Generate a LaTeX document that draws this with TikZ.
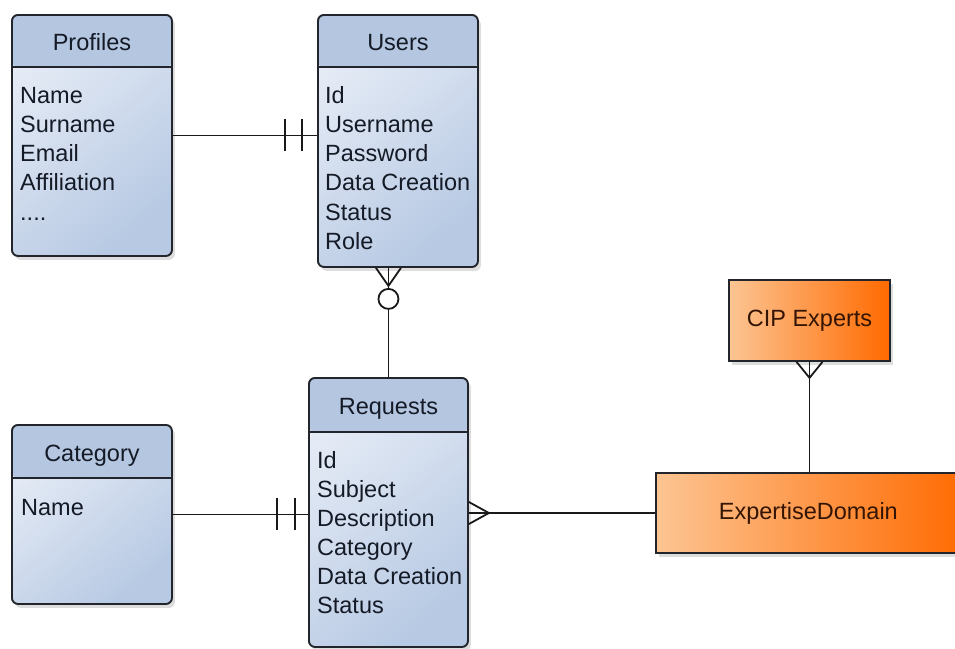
\documentclass[tikz,border=0pt]{standalone}
\usepackage{fontspec}
\setmainfont{Liberation Sans}
\usetikzlibrary{calc,shadows}

\definecolor{bodylight}{HTML}{E6ECF6}
\definecolor{bodydark}{HTML}{B7C9E3}
\definecolor{headfill}{HTML}{B4C6E0}
\definecolor{edgecol}{HTML}{22262C}
\definecolor{bluetext}{HTML}{141A26}
\definecolor{orangelight}{HTML}{FCC593}
\definecolor{orangedark}{HTML}{FF6A00}
\definecolor{orangetext}{HTML}{341402}

\tikzset{
  txt/.style={font=\fontsize{23.5}{29}\selectfont, inner sep=0pt},
  entity/.style={draw=edgecol, line width=1.9pt, rounded corners=6pt,
    rectangle, anchor=north west, inner sep=0pt,
    drop shadow={shadow xshift=3pt, shadow yshift=-4pt, opacity=.22, fill=black!60},
    left color=bodylight, right color=bodydark, shading angle=40,
    path picture={
      \fill[headfill] (path picture bounding box.north west) rectangle
        ([yshift=-#1]path picture bounding box.north east);
      \draw[edgecol, line width=1.9pt]
        ([yshift=-#1]path picture bounding box.north west) --
        ([yshift=-#1]path picture bounding box.north east);
    }},
  title/.style={txt, text=bluetext, anchor=base},
  item/.style={txt, text=bluetext, anchor=base west},
  plainbox/.style={draw=edgecol, line width=1.7pt, rectangle, inner sep=0pt,
    drop shadow={shadow xshift=3pt, shadow yshift=-4pt, opacity=.22, fill=black!60},
    left color=orangelight, right color=orangedark,
    txt, text=orangetext},
  conn/.style={draw=black!90, line width=1.8pt},
}

\begin{document}
\begin{tikzpicture}[x=1pt,y=-1pt]
\useasboundingbox (0,0) rectangle (955,648);
\fill[white] (0,0) rectangle (955,648);

% ---- entity boxes
\node[entity=52pt, minimum width=160pt, minimum height=241pt] (profiles) at (11,14) {};
\node[entity=52pt, minimum width=160pt, minimum height=252pt] (users) at (317,14) {};
\node[entity=53pt, minimum width=160pt, minimum height=179pt] (category) at (11,424) {};
\node[entity=54pt, minimum width=159pt, minimum height=269pt] (requests) at (308,377) {};

% ---- titles
\node[title] (profiles-t) at ($(profiles.north)+(0,36)$) {Profiles};
\node[title] (users-t) at ($(users.north)+(0,36)$) {Users};
\node[title] (category-t) at ($(category.north)+(0,37)$) {Category};
\node[title] (requests-t) at ($(requests.north)+(0,37)$) {Requests};

% ---- attributes
\foreach \t [count=\i] in {Name,Surname,Email,Affiliation}
  \node[item] (profiles-\i) at ($(profiles.north west)+(9,{89+29.3*(\i-1)})$) {\t};
\node[item] (profiles-5) at ($(profiles.north west)+(9,{89+29.3*4})$) {....};
\foreach \t [count=\i] in {Id,Username,Password,Data Creation,Status,Role}
  \node[item] (users-\i) at ($(users.north west)+(8,{89+29.3*(\i-1)})$) {\t};
\node[item] (category-1) at ($(category.north west)+(10,91)$) {Name};
\foreach \t [count=\i] in {Id,Subject,Description,Category,Data Creation,Status}
  \node[item] (requests-\i) at ($(requests.north west)+(9,{91+29*(\i-1)})$) {\t};

% ---- plain boxes
\node[plainbox, minimum width=161pt, minimum height=81pt] (cip) at (809.5,320.5) {CIP Experts};
\node[plainbox, minimum width=310pt, minimum height=80pt, anchor=west,
      text width=310pt, align=center] (domain) at (655,513) {\hspace*{-5pt}ExpertiseDomain};

% ---- Profiles -- Users (one and only one at Users)
\coordinate (pu) at (profiles.east -| users.west);
\draw[conn] (profiles.east) -- (pu);
\draw[conn] ($(pu)+(-32,-16)$) -- ($(pu)+(-32,16)$);
\draw[conn] ($(pu)+(-15,-16)$) -- ($(pu)+(-15,16)$);

% ---- Category -- Requests (one and only one at Requests)
\coordinate (cr) at (category.east -| requests.west);
\draw[conn] (category.east) -- (cr);
\draw[conn] ($(cr)+(-31,-16)$) -- ($(cr)+(-31,16)$);
\draw[conn] ($(cr)+(-13,-16)$) -- ($(cr)+(-13,16)$);

% ---- Users -- Requests (zero or many at Users)
\coordinate (ur) at (requests.north |- users.south);
\draw[conn] (ur) -- (requests.north);
\draw[conn] ($(ur)+(-12.5,0)$) -- ($(ur)+(0,18)$) -- ($(ur)+(12.5,0)$);
\draw[conn, fill=white] ($(ur)+(0,31)$) circle[radius=10pt];

% ---- Requests -- ExpertiseDomain (many at Requests)
\coordinate (rd) at (domain.west -| requests.east);
\draw[conn] (rd) -- (domain.west);
\draw[conn] ($(rd)+(0,-11)$) -- ($(rd)+(20,0)$) -- ($(rd)+(0,11)$);

% ---- CIP Experts -- ExpertiseDomain (many at CIP Experts)
\coordinate (cd) at (cip.south);
\draw[conn] (cd) -- (cd |- domain.north);
\draw[conn] ($(cd)+(-13,0)$) -- ($(cd)+(0,16)$) -- ($(cd)+(13,0)$);
\end{tikzpicture}
\end{document}
